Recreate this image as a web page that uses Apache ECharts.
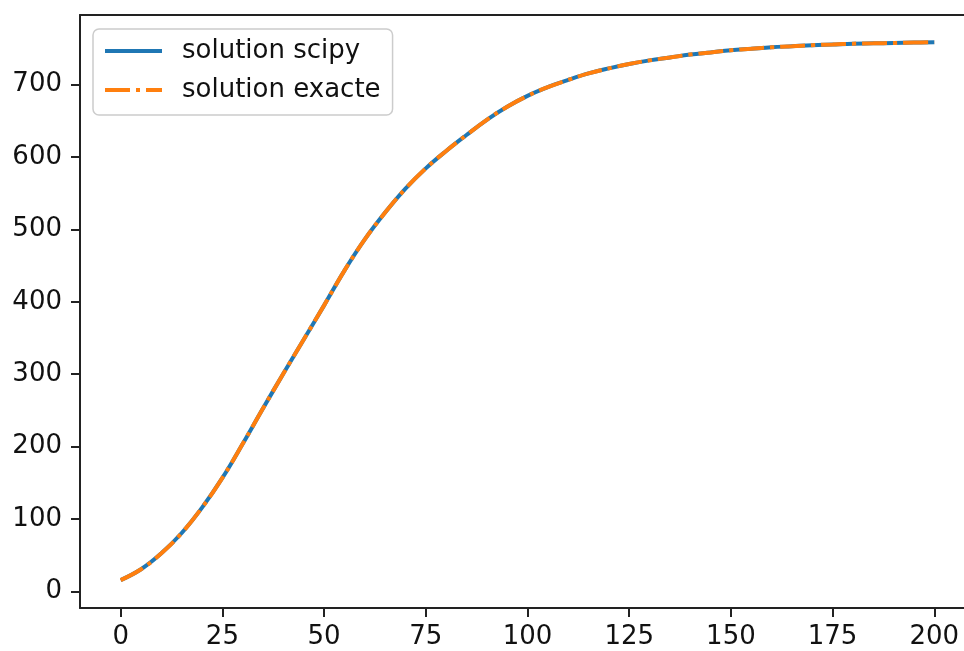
<!DOCTYPE html>
<html>
<head>
<meta charset="utf-8">
<script src="https://cdn.jsdelivr.net/npm/echarts@6/dist/echarts.min.js"></script>
<style>
html,body{margin:0;padding:0;background:#fff;}
#chart{width:964px;height:651px;}
</style>
</head>
<body>
<div id="chart"></div>
<script>
var xValues = [0,5,10,15,20,25,30,35,40,45,50,55,60,65,70,75,80,85,90,95,100,105,110,115,120,125,130,135,140,145,150,155,160,165,170,175,180,185,190,195,200];
var scipyValues = [16,31,53,81,116,157,204,253,301,348,395,443,486,523,556,584,608,630,651,669,684,696,706,715,722,728,733,737,741,744,747,749,751,752.5,754,755,756,756.5,757,757.5,758];
var exactValues = [16,31,53,81,116,157,204,253,301,348,395,443,486,523,556,584,608,630,651,669,684,696,706,715,722,728,733,737,741,744,747,749,751,752.5,754,755,756,756.5,757,757.5,758];
var xTicks = [0,25,50,75,100,125,150,175,200];
var yTicks = [0,100,200,300,400,500,600,700];
var seriesNames = ['solution scipy','solution exacte'];

function pairs(xs, ys){ return xs.map(function(x,i){ return [x, ys[i]]; }); }

var font = 'DejaVu Sans';
var axisColor = '#222';
var chart = echarts.init(document.getElementById('chart'), null, {renderer:'canvas'});
chart.setOption({
  animation:false,
  backgroundColor:'#fff',
  grid:{left:80, top:15, right:0, bottom:43, outerBoundsMode:'none'},
  xAxis:[{
    type:'value', min:-10, max:207.3, position:'bottom',
    axisLine:{show:true, onZero:false, lineStyle:{color:axisColor, width:2}},
    splitLine:{show:false},
    axisTick:{show:true, length:9, lineStyle:{color:axisColor, width:2}, customValues:xTicks},
    axisLabel:{color:'#111', fontFamily:font, fontSize:26, margin:16, customValues:xTicks}
  },{
    type:'value', min:-10, max:207.3, position:'top',
    axisLine:{show:true, onZero:false, lineStyle:{color:axisColor, width:2}},
    splitLine:{show:false}, axisTick:{show:false}, axisLabel:{show:false}
  }],
  yAxis:{
    type:'value', min:-22.5, max:795.6,
    axisLine:{show:true, onZero:false, lineStyle:{color:axisColor, width:2}},
    splitLine:{show:false},
    axisTick:{show:true, length:9, lineStyle:{color:axisColor, width:2}, customValues:yTicks},
    axisLabel:{color:'#111', fontFamily:font, fontSize:26, margin:18, customValues:yTicks}
  },
  legend:{
    orient:'vertical', left:93, top:29,
    padding:[9,12,12,10],
    itemWidth:57, itemHeight:14, itemGap:13,
    backgroundColor:'rgba(255,255,255,0.8)', borderColor:'#cccccc', borderWidth:1.5, borderRadius:6,
    itemStyle:{opacity:0},
    lineStyle:{width:4},
    textStyle:{fontFamily:font, fontSize:26, color:'#111', lineHeight:26, padding:[0,0,0,15]},
    data:seriesNames
  },
  series:[
    {name:seriesNames[0], type:'line', data:pairs(xValues, scipyValues), smooth:0.4, symbol:'none', showSymbol:false,
     lineStyle:{color:'#1f77b4', width:4}, itemStyle:{color:'#1f77b4'}, z:2},
    {name:seriesNames[1], type:'line', data:pairs(xValues, exactValues), smooth:0.4, symbol:'none', showSymbol:false,
     lineStyle:{color:'#ff7f0e', width:4, type:[25,6,4,6], cap:'butt'}, itemStyle:{color:'#ff7f0e'}, z:3}
  ]
});
</script>
</body>
</html>
